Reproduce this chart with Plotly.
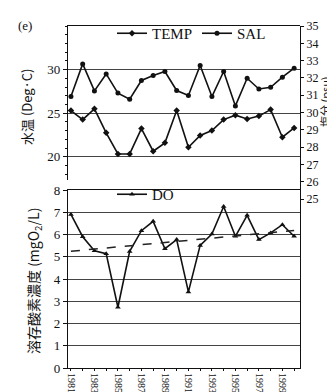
import numpy as np
import plotly.graph_objects as go

years = list(range(1981, 2001))
temp = [25.3, 24.26, 25.5, 22.74, 20.32, 20.32, 23.23, 20.63, 21.59, 25.3,
        21.09, 22.43, 23.0, 24.26, 24.77, 24.34, 24.66, 25.41, 22.24, 23.31]
sal = [30.92, 32.81, 31.25, 32.23, 31.12, 30.77, 31.85, 32.14, 32.37, 31.27,
       30.98, 32.72, 30.92, 32.37, 30.38, 31.98, 31.36, 31.46, 32.04, 32.56]
do_vals = [6.9, 5.9, 5.27, 5.14, 2.73, 5.24, 6.17, 6.59, 5.36, 5.77,
           3.42, 5.51, 6.02, 7.26, 5.92, 6.86, 5.77, 6.07, 6.44, 5.92]
year_labels = [str(y) if y % 2 == 1 else "" for y in years]
left_ticks = [20, 25, 30]
right_ticks = list(range(25, 36))
do_ticks = list(range(0, 9))

coef = np.polyfit(years, do_vals, 1)
trend = list(np.polyval(coef, years))

W, H = 335, 392
def px(x):
    return x / W
def py(y):
    return 1 - y / H

serif = "Liberation Serif, Times New Roman, serif"
cjk = "Noto Sans CJK JP, Noto Sans CJK SC, sans-serif"
black = "#111111"
grid = "#444444"

fig = go.Figure()
fig.add_trace(go.Scatter(x=years, y=temp, name="TEMP", mode="lines+markers",
                         xaxis="x", yaxis="y",
                         line=dict(color=black, width=1.6),
                         marker=dict(symbol="diamond", size=5, color=black),
                         legend="legend"))
fig.add_trace(go.Scatter(x=years, y=sal, name="SAL", mode="lines+markers",
                         xaxis="x", yaxis="y2",
                         line=dict(color=black, width=1.6),
                         marker=dict(symbol="circle", size=5, color=black),
                         legend="legend"))
fig.add_trace(go.Scatter(x=years, y=do_vals, name="DO", mode="lines+markers",
                         xaxis="x2", yaxis="y3",
                         line=dict(color=black, width=1.6),
                         marker=dict(symbol="triangle-up", size=5, color=black),
                         legend="legend2"))
fig.add_trace(go.Scatter(x=years, y=trend, name="trend", mode="lines",
                         xaxis="x2", yaxis="y3", showlegend=False,
                         line=dict(color="#222222", width=1.5, dash="dash")))

xdom = [px(60), px(292)]
xr = [1980.75, 2000.5]
tickfont = dict(family=serif, size=13, color=black)

fig.update_layout(
    width=W, height=H,
    margin=dict(l=0, r=0, t=0, b=0),
    paper_bgcolor="white", plot_bgcolor="rgba(0,0,0,0)",
    xaxis=dict(domain=xdom, range=xr, anchor="y", side="top",
               showline=True, linecolor=black, linewidth=1.2,
               showticklabels=False, ticks="", showgrid=False,
               zeroline=False, automargin=False),
    yaxis=dict(domain=[py(172), py(18)], range=[17.33, 35], anchor="x",
               tickvals=left_ticks, ticks="outside", ticklen=4,
               tickcolor=black, tickfont=tickfont,
               minor=dict(dtick=1, tick0=0, ticks="outside", ticklen=2,
                          tickcolor=black, showgrid=False),
               showline=True, linecolor=black, linewidth=1.2,
               showgrid=True, gridcolor=grid, gridwidth=1,
               zeroline=False, automargin=False),
    yaxis2=dict(domain=[py(191), py(18)], range=[25, 35], anchor="x",
                side="right", tickvals=right_ticks, ticks="outside",
                ticklen=3, tickcolor=black,
                tickfont=dict(family=serif, size=12, color=black),
                showline=True, linecolor=black, linewidth=1.2,
                showgrid=False, zeroline=False, automargin=False),
    xaxis2=dict(domain=xdom, range=xr, anchor="y3",
                tickvals=years, ticktext=year_labels, tickangle=90,
                ticks="outside", ticklen=2, tickcolor=black,
                tickfont=dict(family=serif, size=10, color=black),
                showline=True, linecolor=black, linewidth=1.2, mirror=True,
                showgrid=False, zeroline=False, automargin=False),
    yaxis3=dict(domain=[py(360), py(182)], range=[0, 8], anchor="x2",
                tickvals=do_ticks, ticks="outside", ticklen=4,
                tickcolor=black, tickfont=tickfont,
                showline=True, linecolor=black, linewidth=1.2, mirror=True,
                showgrid=True, gridcolor=grid, gridwidth=1,
                zeroline=False, automargin=False),
    legend=dict(x=px(104), y=py(9), xanchor="left", yanchor="top",
                orientation="h", bgcolor="rgba(0,0,0,0)",
                font=dict(family=serif, size=15, color=black),
                itemwidth=30, tracegroupgap=0),
    legend2=dict(x=px(104), y=py(170), xanchor="left", yanchor="top",
                 orientation="h", bgcolor="rgba(0,0,0,0)",
                 font=dict(family=serif, size=15, color=black),
                 itemwidth=30),
    annotations=[
        dict(text="(e)", x=px(8), y=py(17), xref="paper", yref="paper",
             xanchor="left", yanchor="middle", showarrow=False,
             font=dict(family=serif, size=13, color=black)),
        dict(text="水温 (Deg·C)", x=px(19), y=py(99), xref="paper",
             yref="paper", textangle=-90, showarrow=False,
             xanchor="center", yanchor="middle",
             font=dict(family=cjk, size=13, color=black)),
        dict(text="塩分 (psu)", x=px(317), y=py(94), xref="paper",
             yref="paper", textangle=-90, showarrow=False,
             xanchor="center", yanchor="middle",
             font=dict(family=cjk, size=11, color=black)),
        dict(text="溶存酸素濃度 (mgO<sub>2</sub>/L)", x=px(26), y=py(273),
             xref="paper", yref="paper", textangle=-90, showarrow=False,
             xanchor="center", yanchor="middle",
             font=dict(family=cjk, size=14, color=black)),
    ],
)

fig.write_html("out.html")
